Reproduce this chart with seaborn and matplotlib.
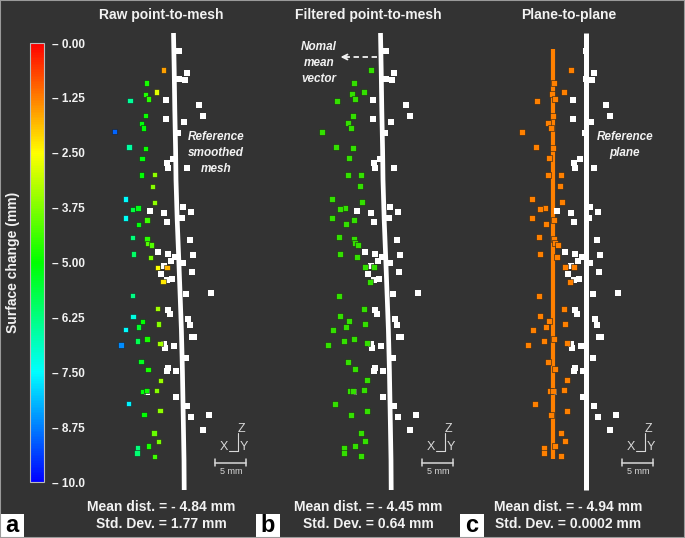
import matplotlib
matplotlib.use("Agg")
import numpy as np
import pandas as pd
import matplotlib.pyplot as plt
import seaborn as sns
from matplotlib.colors import LinearSegmentedColormap, Normalize
from matplotlib.cm import ScalarMappable
from matplotlib.patches import Rectangle

# ---------------- data ----------------
panel_titles = ["Raw point-to-mesh", "Filtered point-to-mesh", "Plane-to-plane"]
panel_letters = ["a", "b", "c"]
mean_dist = ["- 4.84", "- 4.45", "- 4.94"]
std_dev = ["1.77", "0.64", "0.0002"]

# moving points (depth, height in drawing units) and surface change (mm)
moving_depth = [163.7, 146.7, 156.7, 145.3, 148.3, 130.0, 145.7, 141.3, 143.7, 114.7,
                129.0, 145.7, 142.0, 141.3, 154.3, 152.7, 125.3, 154.7, 138.0, 132.7,
                125.3, 147.0, 138.7, 132.3, 147.0, 147.7, 151.3, 133.3, 150.3, 157.7,
                167.0, 163.0, 132.3, 157.3, 133.0, 142.3, 158.3, 125.7, 138.7, 147.0,
                137.3, 160.0, 121.0, 141.0, 148.0, 160.3, 156.7, 142.7, 146.3, 128.3,
                160.0, 144.0, 154.0, 158.3, 148.3, 137.3, 137.0, 154.3]
moving_height = [70.0, 83.0, 92.0, 94.3, 99.0, 100.7, 115.7, 123.3, 128.0, 131.7,
                 147.0, 148.3, 158.3, 175.0, 174.7, 186.3, 199.0, 202.3, 208.0, 209.3,
                 218.0, 220.0, 224.3, 237.3, 239.0, 243.3, 245.0, 254.0, 257.3, 267.3,
                 267.3, 281.7, 295.7, 308.7, 316.3, 321.3, 324.0, 329.7, 327.0, 339.0,
                 341.0, 343.3, 345.0, 361.7, 369.3, 380.3, 390.3, 391.3, 390.7, 403.7,
                 410.7, 414.7, 433.0, 441.3, 446.0, 448.0, 453.0, 456.3]
surface_change = [1.6, 4.8, 2.8, 4.7, 4.6, 6.5, 4.9, 5.1, 5.0, 9.0,
                  6.6, 4.9, 5.1, 5.0, 3.6, 3.7, 7.5, 3.6, 5.2, 5.6,
                  7.4, 4.4, 5.1, 6.2, 4.6, 4.2, 4.2, 6.0, 3.8, 2.5,
                  1.8, 2.3, 6.3, 3.4, 7.2, 5.0, 3.7, 7.5, 5.4, 4.8,
                  5.8, 3.4, 8.6, 5.3, 4.8, 3.5, 3.7, 5.1, 4.9, 7.6,
                  3.6, 5.0, 4.0, 3.8, 4.8, 6.2, 6.1, 4.4]

# reference points
ref_depth = [178.7, 186.7, 179.0, 184.7, 166.3, 199.3, 203.0, 165.7, 184.3, 178.0,
             173.0, 167.3, 168.3, 187.0, 182.7, 150.0, 163.7, 191.0, 181.7, 166.7,
             189.7, 157.7, 168.3, 193.0, 174.7, 171.3, 182.7, 163.7, 161.3, 192.3,
             172.0, 167.3, 185.7, 211.0, 168.0, 170.3, 188.3, 190.3, 191.7, 194.3,
             163.7, 165.0, 174.0, 186.3, 168.3, 167.0, 176.0, 147.0, 176.0, 187.3,
             190.7, 209.3, 203.0]
ref_height = [51.3, 72.7, 78.7, 80.3, 100.3, 104.7, 116.0, 118.7, 121.7, 132.7,
              159.3, 163.0, 167.7, 167.7, 206.7, 211.0, 213.0, 211.7, 218.3, 221.7,
              240.0, 251.7, 253.7, 255.3, 256.7, 260.7, 263.0, 266.0, 274.3, 272.0,
              279.0, 280.0, 294.3, 293.3, 310.0, 314.3, 319.0, 325.0, 337.3, 336.7,
              344.0, 348.0, 346.0, 358.3, 368.3, 370.7, 371.0, 391.7, 397.0, 406.0,
              416.7, 415.0, 430.3]

# reference smoothed mesh profile
mesh_depth = [173.5, 174.2, 174.8, 175.6, 176.0, 177.2, 178.8, 180.3, 181.4, 182.4, 183.3, 184.0, 184.2]
mesh_height = [33, 70, 110, 150, 180, 220, 260, 300, 330, 370, 420, 460, 490]

# planes (panel c)
ref_plane_depth = [179.0, 179.0]
ref_plane_height = [33, 490]
fit_plane_depth = [146.0, 146.0]
fit_plane_height = [49, 459]

cbar_ticks = [0.0, 1.25, 2.5, 3.75, 5.0, 6.25, 7.5, 8.75, 10.0]
cbar_labels = ["0.00", "1.25", "2.50", "3.75", "5.00", "6.25", "7.50", "8.75", "10.0"]

# ---------------- style ----------------
sns.set_theme(style="dark")
plt.rcParams["font.family"] = ["Liberation Sans", "DejaVu Sans"]
BG = "#333333"
FG = "#f2f2f2"
ORANGE = "#ff8000"
GREEN = "#33e000"

cmap = LinearSegmentedColormap.from_list(
    "sc", [(0.0, "#ff0000"), (0.125, "#ff8000"), (0.25, "#ffff00"),
           (0.5, "#00ff00"), (0.75, "#00ffff"), (1.0, "#0000ff")])
norm = Normalize(0, 10)

fig = plt.figure(figsize=(6.85, 5.38), dpi=100, facecolor=BG)
ax = fig.add_axes([0, 0, 1, 1])
ax.set_xlim(0, 685)
ax.set_ylim(538, 0)
ax.axis("off")

offsets = [0, 207, 407]
pts = pd.DataFrame({"d": moving_depth, "h": moving_height, "v": surface_change})
refs = pd.DataFrame({"d": ref_depth, "h": ref_height})
mesh = pd.DataFrame({"d": mesh_depth, "h": mesh_height})

MS = 15
for i, off in enumerate(offsets):
    # reference surfaces
    if i < 2:
        sns.lineplot(x=mesh["d"] + off, y=mesh["h"], sort=False, estimator=None,
                     color="white", lw=3.4, ax=ax, zorder=2, solid_capstyle="butt")
    else:
        sns.lineplot(x=np.array(ref_plane_depth) + off, y=ref_plane_height, sort=False,
                     estimator=None, color="white", lw=3.6, ax=ax, zorder=2,
                     solid_capstyle="butt")
        sns.lineplot(x=np.array(fit_plane_depth) + off, y=fit_plane_height, sort=False,
                     estimator=None, color=ORANGE, lw=3.0, ax=ax, zorder=2,
                     solid_capstyle="butt")
    # reference points
    sns.scatterplot(x=refs["d"] + off, y=refs["h"], color="white", marker="s", s=MS,
                    linewidth=0, ax=ax, zorder=3, legend=False)
    # moving points
    if i == 0:
        sns.scatterplot(x=pts["d"] + off, y=pts["h"], hue=pts["v"], palette=cmap,
                        hue_norm=(0, 10), marker="s", s=MS, edgecolor="#1e1e1e",
                        linewidth=0.4, ax=ax, zorder=3, legend=False)
    else:
        sns.scatterplot(x=pts["d"] + off, y=pts["h"], color=GREEN if i == 1 else ORANGE,
                        marker="s", s=MS, edgecolor="#1e1e1e", linewidth=0.4,
                        ax=ax, zorder=3, legend=False)

    cx = 161.5 + off
    ax.text(cx, 14.5, panel_titles[i], ha="center", va="center", fontsize=10,
            fontweight="bold", color=FG)
    ax.text(cx, 507.3, f"Mean dist. = {mean_dist[i]} mm", ha="center", va="center",
            fontsize=10, fontweight="bold", color=FG)
    ax.text(cx, 523.7, f"Std. Dev. = {std_dev[i]} mm", ha="center", va="center",
            fontsize=10, fontweight="bold", color=FG)

    # axis triad + scale bar
    gc = "#d8d8d8"
    ax.plot([238 + off, 238 + off], [433, 451], color=gc, lw=0.8)
    ax.plot([229 + off, 238 + off], [451, 451], color=gc, lw=0.8)
    ax.text(241.3 + off, 429.5, "Z", ha="center", va="center", fontsize=9, color=gc)
    ax.text(224.3 + off, 447, "X", ha="center", va="center", fontsize=9, color=gc)
    ax.text(243.6 + off, 447, "Y", ha="center", va="center", fontsize=9, color=gc)
    ax.plot([215.5 + off, 246.5 + off], [462.5, 462.5], color=gc, lw=1.1)
    ax.plot([215.5 + off, 215.5 + off], [459, 466], color=gc, lw=1.1)
    ax.plot([246.5 + off, 246.5 + off], [459, 466], color=gc, lw=1.1)
    ax.text(231 + off, 472, "5 mm", ha="center", va="center", fontsize=6.5, color=gc)

# panel letter boxes
for lx, letter in zip([0, 256, 460], panel_letters):
    ax.add_patch(Rectangle((lx, 514), 24, 24, facecolor="white", edgecolor="none", zorder=4))
    ax.text(lx + 12, 525.5, letter, ha="center", va="center", fontsize=17,
            fontweight="bold", color="black", zorder=5)

# annotations
ax.text(216, 153.3, "Reference\nsmoothed\nmesh", ha="center", va="center", fontsize=8.5,
        fontweight="bold", style="italic", color=FG, linespacing=1.45)
ax.text(625, 145, "Reference\nplane", ha="center", va="center", fontsize=8.5,
        fontweight="bold", style="italic", color=FG, linespacing=1.45)
ax.text(319, 63.2, "Nomal\nmean\nvector", ha="center", va="center", fontsize=8.5,
        fontweight="bold", style="italic", color=FG, linespacing=1.45)
ax.plot([377, 344], [57, 57], color=FG, lw=1.3, ls=(0, (3, 2)))
ax.annotate("", xy=(340.5, 57), xytext=(346, 57),
            arrowprops=dict(arrowstyle="->", color=FG, lw=1.3, shrinkA=0, shrinkB=0,
                            mutation_scale=9))

ax.text(13.3, 262, "Surface change (mm)", rotation=90, ha="center", va="center",
        fontsize=10, fontweight="bold", color=FG)

# colorbar
cax = fig.add_axes([30 / 685, (538 - 482) / 538, 14 / 685, 439 / 538])
cb = fig.colorbar(ScalarMappable(norm=norm, cmap=cmap), cax=cax)
cax.invert_yaxis()
cb.set_ticks(cbar_ticks)
cb.set_ticklabels(["\u2013 " + t for t in cbar_labels])
cax.tick_params(axis="y", length=0, pad=6, labelsize=8.5, labelcolor=FG)
for t in cax.get_yticklabels():
    t.set_fontweight("bold")
cb.outline.set_edgecolor("#bbbbbb")
cb.outline.set_linewidth(0.8)

# outer border
fig.patches.append(Rectangle((0, 0), 1, 1, transform=fig.transFigure, fill=False,
                             edgecolor="#9a9a9a", lw=1.5))

fig.savefig("out.png", dpi=100, facecolor=fig.get_facecolor())
